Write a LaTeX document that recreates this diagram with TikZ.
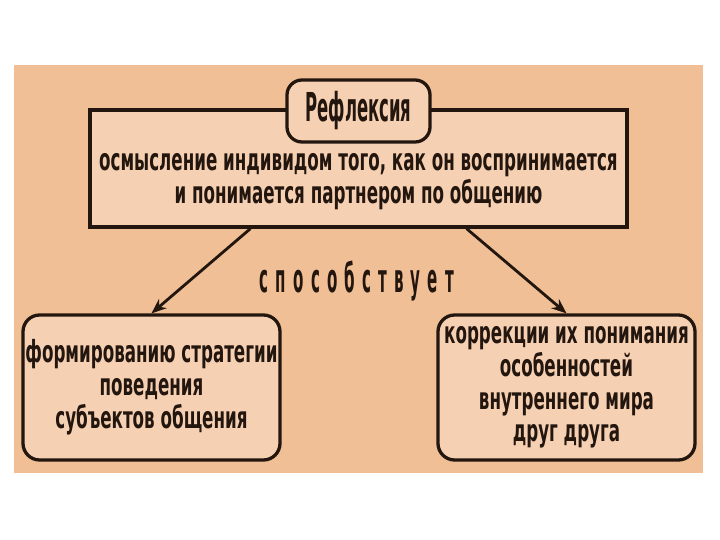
\documentclass[tikz,border=0pt]{standalone}
\usepackage{fontspec}
\newfontfamily\condfont[FakeStretch=0.61]{DejaVu Sans Condensed}
\newfontfamily\headfont[FakeStretch=0.46]{DejaVu Sans Condensed}
\newfontfamily\spacedfont[FakeStretch=0.42,LetterSpace=18]{DejaVu Sans Condensed}
\usetikzlibrary{arrows.meta,calc}
\definecolor{pagebg}{RGB}{240,191,150}
\definecolor{boxfill}{RGB}{246,208,178}
\definecolor{inkline}{RGB}{35,22,14}
\tikzset{
  panel/.style={line width=2.8pt,draw=inkline,fill=boxfill,inner sep=2pt},
  headbox/.style={panel,rounded corners=4.5mm,minimum width=4.29cm,minimum height=1.86cm,
    align=center,text=inkline,font=\headfont\bfseries\fontsize{34}{36}\selectfont},
  topbox/.style={panel,minimum width=16.11cm,minimum height=3.51cm},
  sidebox/.style={panel,rounded corners=5mm,minimum width=7.71cm,minimum height=4.35cm},
  boxtext/.style={align=center,text=inkline,font=\condfont\bfseries\fontsize{26}{28}\selectfont},
  linktext/.style={text=inkline,font=\spacedfont\bfseries\fontsize{34}{36}\selectfont},
  link/.style={-{Stealth[length=4.5mm,width=3.6mm]},line width=2.4pt,draw=inkline}
}
\begin{document}
\begin{tikzpicture}[x=0.03cm,y=-0.03cm]
  \useasboundingbox[fill=white] (0,0) rectangle (720,540);
  \fill[pagebg] (14,65) rectangle (703,473);
  \node[topbox] (desc) at (358.5,168.5) {};
  \node[boxtext] (desctext) at (358.5,182) {осмысление индивидом того, как он воспринимается\\и понимается партнером по общению};
  \node[headbox] (refl) at (358.5,111) {Рефлексия};
  \node[sidebox,boxtext] (left) at (151.5,387.5) {формированию стратегии\\поведения\\субъектов общения};
  \node[sidebox,boxtext] (right) at (566.5,387.5) {коррекции их понимания\\особенностей\\внутреннего мира\\друг друга};
  \node[linktext] (helps) at (357,281) {способствует};
  \draw[link] ($(desc.south west)!0.3!(desc.south east)$) -- (left.north);
  \draw[link] ($(desc.south west)!0.7!(desc.south east)$) -- (right.north);
\end{tikzpicture}
\end{document}
